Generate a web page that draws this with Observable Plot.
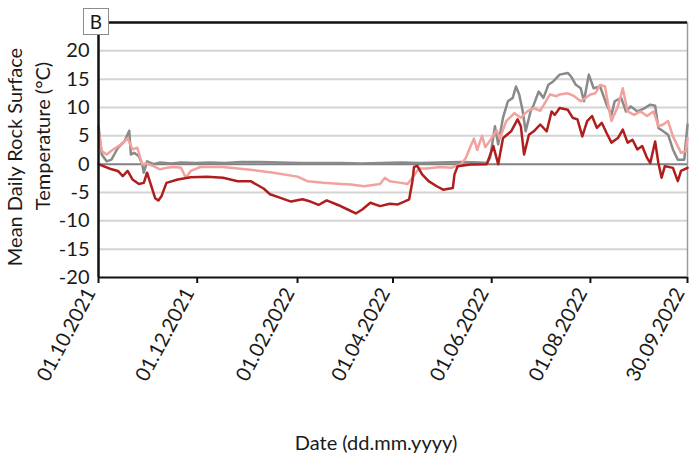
<!DOCTYPE html>
<html>
<head>
<meta charset="utf-8">
<script src="https://cdn.jsdelivr.net/npm/d3@7"></script>
<script src="https://cdn.jsdelivr.net/npm/@observablehq/plot@0.6"></script>
<style>
  html, body { margin: 0; padding: 0; background: #fff; }
  #wrap { position: relative; width: 691px; height: 459px; font-family: Lato, "Open Sans", sans-serif; color: #1a1a1a; }
  #wrap svg { position: absolute; left: 0; top: 0; overflow: visible; }
  .ov { position: absolute; white-space: nowrap; font-size: 20px; line-height: 1; }
  .rot { transform: translate(-50%, -50%) rotate(-90deg); }
  .ctr { transform: translate(-50%, -50%); }
  #panel { position: absolute; left: 83px; top: 8px; width: 24px; height: 25px; border: 1.5px solid #8c8c8c; background: #fff; font-size: 19px; line-height: 25px; text-align: center; }
</style>
</head>
<body>
<div id="wrap"></div>
<script>
// ---- data: days since 01.10.2021 and mean daily rock surface temperature (°C) ----
const startISO = "2021-10-01";
const endISO = "2022-09-30";

const greyDays  = [0, 2, 5, 8, 12, 16, 19, 20, 22, 25, 27, 28, 30, 34, 38, 45, 51, 60, 69, 78, 88, 100, 112, 125, 137, 150, 162, 174, 187, 199, 211, 224, 236, 240, 242, 245, 247, 250, 253, 256, 258, 260, 262, 264, 267, 269, 272, 275, 278, 281, 285, 290, 292, 295, 298, 300, 303, 306, 310, 314, 317, 319, 323, 326, 329, 333, 337, 341, 344, 346, 349, 352, 355, 358, 362, 364];
const greyTemps = [6.7, 1.7, 0.5, 0.8, 2.9, 4.0, 5.9, 1.7, 2.0, 1.4, 0.0, -1.5, 0.5, 0.0, 0.3, 0.1, 0.3, 0.2, 0.3, 0.2, 0.4, 0.4, 0.3, 0.2, 0.2, 0.2, 0.1, 0.2, 0.3, 0.2, 0.3, 0.4, 0.3, 0.2, 1.1, 6.7, 3.5, 8.2, 11.1, 11.7, 13.7, 12.3, 9.6, 5.8, 9.3, 10.5, 12.8, 11.7, 14.0, 14.6, 15.8, 16.1, 15.5, 14.0, 13.4, 11.1, 15.8, 13.4, 13.7, 10.5, 8.7, 11.1, 11.7, 9.3, 10.2, 9.3, 9.8, 10.5, 10.3, 6.4, 5.8, 5.2, 2.6, 0.8, 0.8, 7.0];

const pinkDays  = [0, 2, 5, 9, 14, 18, 21, 24, 27, 30, 34, 38, 42, 47, 51, 54, 57, 63, 77, 86, 94, 108, 123, 129, 139, 150, 156, 164, 174, 177, 180, 187, 191, 194, 198, 203, 211, 218, 224, 227, 230, 232, 234, 237, 239, 242, 246, 248, 252, 257, 261, 265, 269, 273, 279, 283, 285, 290, 294, 298, 304, 307, 310, 313, 315, 317, 321, 324, 327, 331, 335, 339, 343, 346, 349, 352, 355, 360, 363, 364];
const pinkTemps = [6.1, 2.3, 1.7, 2.6, 3.5, 4.6, 2.6, 2.9, 0.0, 0.1, -0.35, -0.9, -0.65, -0.5, -0.65, -2.4, -1.2, -0.5, -0.5, -0.75, -1.0, -1.5, -2.2, -3.0, -3.3, -3.5, -3.6, -3.9, -3.5, -2.4, -3.0, -3.3, -3.5, -2.4, -0.75, -0.75, -0.5, -0.65, 0.0, 1.1, 3.2, 4.5, 2.5, 5.0, 3.0, 4.2, 6.0, 4.5, 7.6, 9.0, 8.2, 9.3, 9.9, 9.4, 12.3, 12.0, 12.3, 12.5, 12.0, 11.1, 12.3, 12.5, 14.0, 13.7, 10.5, 7.6, 10.2, 13.4, 9.3, 8.7, 9.3, 8.5, 9.3, 6.7, 7.0, 7.6, 4.9, 2.0, 2.3, 4.6];

const darkDays  = [0, 3, 7, 12, 15, 18, 21, 25, 28, 30, 33, 35, 37, 39, 42, 49, 57, 67, 77, 86, 94, 102, 106, 112, 119, 126, 131, 136, 141, 148, 154, 159, 163, 168, 174, 180, 185, 189, 192, 194, 195, 197, 200, 204, 209, 213, 219, 220, 222, 230, 240, 244, 247, 250, 255, 259, 261, 263, 266, 269, 273, 277, 280, 282, 285, 290, 293, 296, 299, 302, 305, 308, 311, 314, 317, 321, 324, 327, 330, 333, 336, 339, 341, 344, 346, 348, 350, 355, 358, 360, 364];
const darkTemps = [0.0, -0.35, -0.8, -1.2, -2.1, -1.2, -2.7, -3.5, -3.3, -1.5, -4.2, -6.0, -6.4, -5.6, -3.3, -2.7, -2.3, -2.2, -2.4, -3.0, -3.0, -4.3, -5.3, -5.9, -6.6, -6.2, -6.6, -7.2, -6.4, -7.2, -8.0, -8.7, -8.0, -6.8, -7.4, -7.0, -7.1, -6.6, -6.2, -3.0, -0.5, -0.3, -1.8, -3.0, -3.9, -4.5, -4.2, -1.8, -0.35, -0.05, 0.0, 3.2, 0.0, 4.6, 5.8, 7.9, 6.7, 1.7, 5.2, 5.8, 7.0, 5.8, 9.3, 8.7, 9.9, 9.6, 8.2, 7.9, 4.9, 7.6, 8.5, 6.4, 7.3, 5.5, 3.8, 4.6, 6.1, 3.8, 4.3, 2.6, 3.2, 1.1, 0.2, 4.0, 0.2, -2.4, -0.35, -0.65, -3.0, -1.2, -0.65];

const xTickLabels = ["01.10.2021", "01.12.2021", "01.02.2022", "01.04.2022", "01.06.2022", "01.08.2022", "30.09.2022"];
const yTicks = [-20, -15, -10, -5, 0, 5, 10, 15, 20];
const yGrid = [-15, -10, -5, 5, 10, 15, 20];

// ---- build ----
const start = new Date(startISO + "T00:00:00Z");
const end = new Date(endISO + "T00:00:00Z");
const toDate = d => new Date(start.getTime() + d * 864e5);
const parseLabel = s => { const [dd, mm, yy] = s.split("."); return new Date(Date.UTC(+yy, +mm - 1, +dd)); };
const mk = (days, temps) => days.map((d, i) => ({date: toDate(d), temp: temps[i]}));
const grey = mk(greyDays, greyTemps);
const pink = mk(pinkDays, pinkTemps);
const dark = mk(darkDays, darkTemps);
const xTicks = xTickLabels.map(parseLabel);
const fmt = d3.utcFormat("%d.%m.%Y");

const chart = Plot.plot({
  width: 691,
  height: 459,
  marginLeft: 98,
  marginRight: 4,
  marginTop: 22,
  marginBottom: 182,
  x: {type: "utc", domain: [start, end]},
  y: {domain: [-20, 25]},
  style: {fontFamily: "Lato, 'Open Sans', sans-serif", fontSize: "20px", color: "#1a1a1a", background: "transparent"},
  marks: [
    Plot.gridY(yGrid, {stroke: "#d4d4d4", strokeOpacity: 1, strokeWidth: 2}),
    Plot.ruleY([0], {stroke: "#808080", strokeWidth: 2}),
    Plot.ruleX([end], {stroke: "#9a9a9a", strokeWidth: 1.5}),
    Plot.ruleY([25], {stroke: "#111", strokeWidth: 2.5}),
    Plot.line(grey, {x: "date", y: "temp", stroke: "#8a8a8a", strokeWidth: 2.5}),
    Plot.line(pink, {x: "date", y: "temp", stroke: "#f2a29d", strokeWidth: 2.5}),
    Plot.line(dark, {x: "date", y: "temp", stroke: "#b01d1d", strokeWidth: 2.5}),
    Plot.ruleY([-20], {stroke: "#111", strokeWidth: 2}),
    Plot.ruleX([start], {stroke: "#111", strokeWidth: 2.5}),
    Plot.axisY(yTicks, {tickSize: 0, tickPadding: 9, label: null, tickFormat: d => String(d)}),
    Plot.axisX(xTicks, {tickSize: 6, tickFormat: () => "", label: null, stroke: "#111", strokeWidth: 2}),
    Plot.axisX(xTicks, {tickSize: 0, tickPadding: 12, dx: -8, tickRotate: -62, tickFormat: fmt, label: null})
  ]
});

const wrap = document.getElementById("wrap");
wrap.appendChild(chart);

function addText(txt, x, y, cls) {
  const el = document.createElement("div");
  el.className = "ov " + cls;
  el.style.left = x + "px";
  el.style.top = y + "px";
  el.textContent = txt;
  wrap.appendChild(el);
}
addText("Mean Daily Rock Surface", 14, 157, "rot");
addText("Temperature (°C)", 42, 136, "rot");
addText("Date (dd.mm.yyyy)", 376, 442, "ctr");
const panel = document.createElement("div");
panel.id = "panel";
panel.textContent = "B";
wrap.appendChild(panel);
</script>
</body>
</html>
